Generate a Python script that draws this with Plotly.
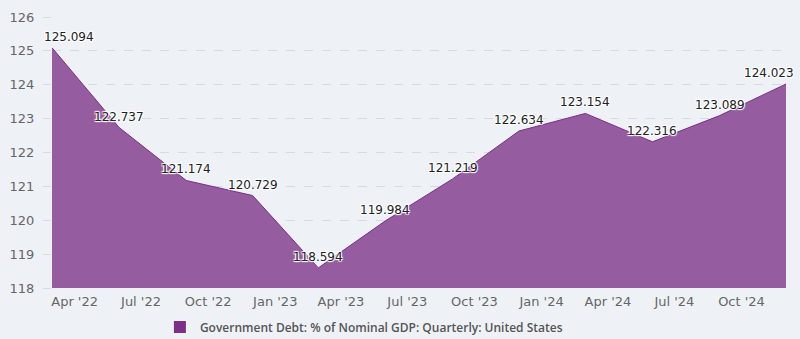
import plotly.graph_objects as go

dates = ["2022-03-01", "2022-06-01", "2022-09-01", "2022-12-01", "2023-03-01", "2023-06-01",
         "2023-09-01", "2023-12-01", "2024-03-01", "2024-06-01", "2024-09-01", "2024-12-01"]
values = [125.094, 122.737, 121.174, 120.729, 118.594, 119.984,
          121.219, 122.634, 123.154, 122.316, 123.089, 124.023]
series_name = "Government Debt: % of Nominal GDP: Quarterly: United States"
label_text = [f"{v:.3f}" for v in values]
label_xshift = [17] + [0] * 10 + [-17]

BG = "#eef2f7"
LINE = "#7b2f87"
FILL = "rgba(149,92,160,1)"
FONT = "DejaVu Sans"
SHADOW = "1px 1px 1px #fff, -1px -1px 1px #fff, 1px -1px 1px #fff, -1px 1px 1px #fff"

fig = go.Figure()
fig.add_trace(go.Scatter(
    x=dates, y=values, mode="lines", fill="tozeroy",
    line=dict(color=LINE, width=1), fillcolor=FILL,
    showlegend=False, hoverinfo="x+y",
))
fig.add_trace(go.Scatter(
    x=[None], y=[None], mode="markers", name=series_name,
    marker=dict(symbol="square", size=13, color=LINE),
))

for d, v, t, xs in zip(dates, values, label_text, label_xshift):
    fig.add_annotation(
        x=d, y=v, text=t, showarrow=False, xshift=xs, yshift=11,
        xanchor="center", yanchor="middle",
        font=dict(family=FONT, size=12, color="#222", shadow=SHADOW),
    )

fig.update_layout(
    width=800, height=339,
    paper_bgcolor=BG, plot_bgcolor=BG,
    margin=dict(l=52, r=14, t=17, b=51, autoexpand=False),
    font=dict(family=FONT, size=13, color="#666"),
    legend=dict(orientation="h", x=0.147, xanchor="left", y=-0.144, yanchor="middle",
                font=dict(family="Open Sans", size=12, color="#555", weight=600),
                bgcolor="rgba(0,0,0,0)", itemsizing="constant", itemwidth=30),
    xaxis=dict(type="date", range=["2022-03-01", "2024-12-01"],
               tick0="2022-04-01", dtick="M3", tickformat="%b '%y",
               showgrid=False, zeroline=False, showline=False,
               ticks="outside", ticklen=1, tickcolor="rgba(0,0,0,0)",
               tickfont=dict(size=13, color="#666")),
    yaxis=dict(range=[118, 126], dtick=1, tick0=118,
               showgrid=True, gridcolor="#d6dbe2", griddash="dash", gridwidth=1,
               zeroline=False, showline=False,
               ticks="outside", ticklen=8, tickcolor="#d6dbe2",
               ticklabelstandoff=6,
               tickfont=dict(size=13, color="#666")),
)

fig.write_html("out.html")
